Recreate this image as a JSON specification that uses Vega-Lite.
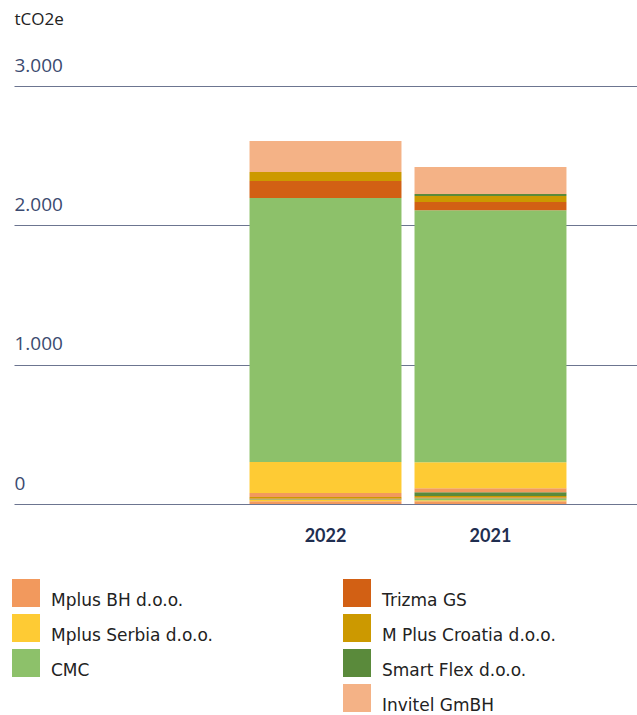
{
  "$schema": "https://vega.github.io/schema/vega-lite/v6.json",
  "width": 623,
  "height": 418,
  "autosize": {"type": "none"},
  "padding": {"left": 14, "top": 86, "right": 0, "bottom": 211},
  "background": "white",
  "config": {"view": {"stroke": null}, "font": "Open Sans"},
  "data": {"values": [
    {"year": "2022", "part": "a", "company": "Mplus BH d.o.o.", "value": 20},
    {"year": "2022", "part": "a", "company": "Mplus Serbia d.o.o.", "value": 8},
    {"year": "2022", "part": "a", "company": "CMC", "value": 6},
    {"year": "2022", "part": "a", "company": "Trizma GS", "value": 6},
    {"year": "2022", "part": "a", "company": "M Plus Croatia d.o.o.", "value": 10},
    {"year": "2022", "part": "main", "company": "Mplus BH d.o.o.", "value": 29},
    {"year": "2022", "part": "main", "company": "Mplus Serbia d.o.o.", "value": 223},
    {"year": "2022", "part": "main", "company": "CMC", "value": 1895},
    {"year": "2022", "part": "main", "company": "Trizma GS", "value": 122},
    {"year": "2022", "part": "main", "company": "M Plus Croatia d.o.o.", "value": 64},
    {"year": "2022", "part": "main", "company": "Invitel GmBH", "value": 223},
    {"year": "2021", "part": "a", "company": "Mplus BH d.o.o.", "value": 20},
    {"year": "2021", "part": "a", "company": "Mplus Serbia d.o.o.", "value": 7},
    {"year": "2021", "part": "a", "company": "CMC", "value": 14},
    {"year": "2021", "part": "a", "company": "Trizma GS", "value": 5},
    {"year": "2021", "part": "a", "company": "M Plus Croatia d.o.o.", "value": 12},
    {"year": "2021", "part": "a", "company": "Smart Flex d.o.o.", "value": 26},
    {"year": "2021", "part": "main", "company": "Mplus BH d.o.o.", "value": 29},
    {"year": "2021", "part": "main", "company": "Mplus Serbia d.o.o.", "value": 187},
    {"year": "2021", "part": "main", "company": "CMC", "value": 1809},
    {"year": "2021", "part": "main", "company": "Trizma GS", "value": 58},
    {"year": "2021", "part": "main", "company": "M Plus Croatia d.o.o.", "value": 43},
    {"year": "2021", "part": "main", "company": "Smart Flex d.o.o.", "value": 14},
    {"year": "2021", "part": "main", "company": "Invitel GmBH", "value": 194}
  ]},
  "transform": [
    {"calculate": "indexof(['Mplus BH d.o.o.','Mplus Serbia d.o.o.','CMC','Trizma GS','M Plus Croatia d.o.o.','Smart Flex d.o.o.','Invitel GmBH'], datum.company) + (datum.part == 'main' ? 10 : 0)", "as": "ord"}
  ],
  "mark": {"type": "bar", "strokeWidth": 0},
  "encoding": {
    "x": {
      "field": "year", "type": "nominal",
      "scale": {"domain": [" ", "2022", "2021"], "paddingInner": 0.079, "paddingOuter": 0.4275},
      "axis": {"title": null, "domain": false, "ticks": false, "tickSize": 0, "labelAngle": 0,
        "labelFont": "Lato", "labelFontWeight": "bold", "labelFontSize": 18, "labelColor": "#1f2e50",
        "labelBaseline": "alphabetic", "labelPadding": 37}
    },
    "y": {
      "field": "value", "type": "quantitative", "stack": "zero",
      "scale": {"domain": [0, 3000], "nice": false},
      "axis": {"values": [0, 1000, 2000, 3000], "format": ",d",
        "labelExpr": "replace(datum.label, ',', '.')",
        "title": "tCO2e", "titleAngle": 0, "titleX": 0, "titleY": -62, "titleAlign": "left",
        "titleBaseline": "alphabetic", "titleFont": "Open Sans", "titleFontWeight": "normal", "titleFontSize": 17, "titleColor": "#222222",
        "domain": false, "ticks": false, "tickSize": 0,
        "labelAlign": "left", "labelBaseline": "alphabetic", "labelPadding": 0, "labelOffset": -15,
        "labelFont": "Open Sans", "labelFontSize": 19, "labelColor": "#3b4a70",
        "grid": true, "gridColor": "#6c7590", "gridWidth": 1, "gridOpacity": 1}
    },
    "color": {
      "field": "company", "type": "nominal",
      "scale": {
        "domain": ["Mplus BH d.o.o.", "Mplus Serbia d.o.o.", "CMC", " ", "Trizma GS", "M Plus Croatia d.o.o.", "Smart Flex d.o.o.", "Invitel GmBH"],
        "range": ["#f2995d", "#fecb34", "#8dc16a", "#ffffff", "#d26014", "#cc9900", "#5a8a3b", "#f4b286"]
      },
      "legend": {"title": null, "orient": "none", "legendX": -2, "legendY": 493, "columns": 2,
        "symbolType": "square", "symbolSize": 784, "symbolStrokeWidth": 0, "symbolOpacity": 1,
        "labelFont": "DejaVu Sans", "labelFontSize": 17, "labelColor": "#222222", "labelBaseline": "top",
        "labelOffset": 11, "rowPadding": 5, "columnPadding": 130, "padding": 0, "offset": 0, "labelLimit": 300}
    },
    "order": {"field": "ord", "type": "quantitative"}
  }
}
